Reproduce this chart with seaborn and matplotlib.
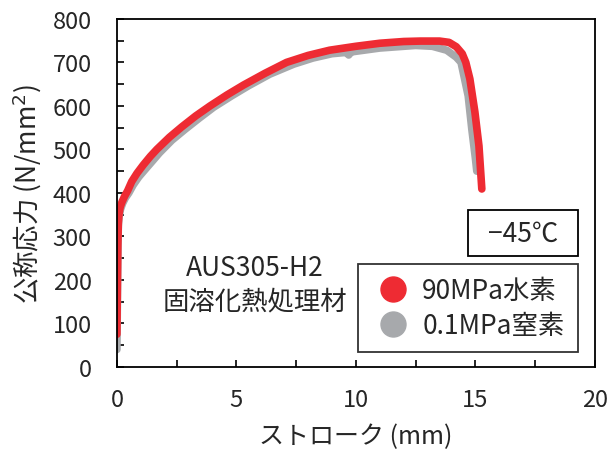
import numpy as np
import pandas as pd
import matplotlib
matplotlib.use("Agg")
import matplotlib.pyplot as plt
from matplotlib.lines import Line2D
from matplotlib.patches import Rectangle
from matplotlib.ticker import MultipleLocator
import seaborn as sns

# 90MPa 水素 (red)
h2_stroke = [0.00, 0.02, 0.04, 0.06, 0.09, 0.14, 0.22, 0.32, 0.45, 0.62, 0.84, 1.1,
             1.4, 1.67, 2.2, 2.72, 3.3, 3.9, 4.6, 5.3, 6.2, 7.1, 8.0, 8.9, 10.0,
             11.0, 12.0, 12.7, 13.5, 13.9, 14.2, 14.45, 14.6, 14.77, 14.98, 15.15, 15.27]
h2_stress = [75, 180, 280, 330, 352, 368, 380, 392, 405, 426, 445, 464,
             484, 500, 528, 552, 577, 600, 625, 648, 675, 700, 716, 728, 737,
             744, 748, 749, 749, 746, 736, 720, 700, 662, 586, 508, 409]

# 0.1MPa 窒素 (gray)
n2_stroke = [0.00, 0.02, 0.04, 0.06, 0.09, 0.15, 0.24, 0.35, 0.5, 0.68, 0.92, 1.2,
             1.5, 1.78, 2.3, 2.85, 3.45, 4.05, 4.8, 5.5, 6.4, 7.4, 8.2, 9.0, 9.6,
             9.7, 9.8, 11.0, 12.5, 13.2, 13.8, 14.2, 14.4, 14.7, 14.85, 15.0, 15.06]
n2_stress = [40, 150, 270, 325, 345, 362, 376, 388, 400, 418, 437, 455,
             474, 492, 521, 546, 572, 597, 623, 646, 673, 696, 710, 720, 723,
             717, 724, 733, 739, 737, 728, 712, 700, 623, 547, 480, 450]

labels = ["90MPa水素", "0.1MPa窒素"]
colors = ["#ee2b33", "#a7a9ac"]

df = pd.concat([
    pd.DataFrame({"stroke": n2_stroke, "stress": n2_stress, "gas": labels[1]}),
    pd.DataFrame({"stroke": h2_stroke, "stress": h2_stress, "gas": labels[0]}),
])

sns.set_style("ticks")
plt.rcParams["font.family"] = ["Noto Sans CJK JP", "DejaVu Sans"]

fig = plt.figure(figsize=(6.12, 4.52), dpi=100)
ax = fig.add_axes([0.191, 0.186, 0.781, 0.770])

sns.lineplot(data=df, x="stroke", y="stress", hue="gas",
             hue_order=[labels[1], labels[0]],
             palette=[colors[1], colors[0]],
             sort=False, estimator=None, linewidth=5.5, legend=False, ax=ax)

ax.set_xlim(0, 20)
ax.set_ylim(0, 800)
ax.xaxis.set_major_locator(MultipleLocator(5))
ax.xaxis.set_minor_locator(MultipleLocator(2.5))
ax.yaxis.set_major_locator(MultipleLocator(100))
ax.yaxis.set_minor_locator(MultipleLocator(50))
ax.tick_params(which="both", direction="in", length=5, width=1.2, color="black")
ax.tick_params(axis="x", which="major", labelsize=17, pad=15)
ax.tick_params(axis="y", which="major", labelsize=17, pad=18)
for s in ax.spines.values():
    s.set_linewidth(1.3)
    s.set_color("black")

ax.set_xlabel("ストローク (mm)", fontsize=18, labelpad=9)
ax.set_ylabel("公称応力 (N/mm$^2$)", fontsize=19, labelpad=6)

ax.text(0.289, 0.287, "AUS305-H2", transform=ax.transAxes,
        ha="center", va="center", fontsize=19)
ax.text(0.289, 0.19, "固溶化熱処理材", transform=ax.transAxes,
        ha="center", va="center", fontsize=19)

# temperature box
ax.add_patch(Rectangle((0.734, 0.319), 0.230, 0.132, transform=ax.transAxes,
                       fc="white", ec="black", lw=1.3, zorder=4))
ax.text(0.849, 0.385, "−45℃", transform=ax.transAxes, ha="center", va="center",
        fontsize=19, zorder=5)

handles = [Line2D([], [], linestyle="none", marker="o", markersize=18,
                  markerfacecolor=c, markeredgecolor=c) for c in colors]
leg = ax.legend(handles, labels, loc="lower right", bbox_to_anchor=(0.964, 0.043),
                borderaxespad=0, fontsize=19, frameon=True, fancybox=False,
                handletextpad=0.25, borderpad=0.5, labelspacing=0.3,
                handlelength=1.7)
leg.get_frame().set_edgecolor("black")
leg.get_frame().set_linewidth(1.3)

fig.savefig("out.png", dpi=100)
